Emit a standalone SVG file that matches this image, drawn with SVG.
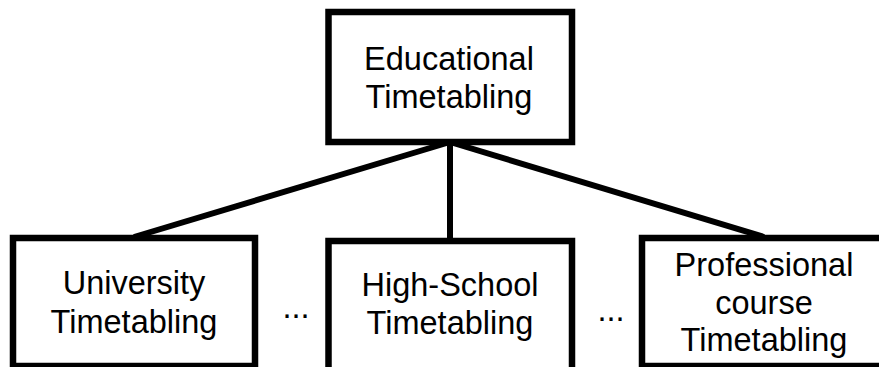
<svg xmlns="http://www.w3.org/2000/svg" width="879" height="367" viewBox="0 0 879 367">
<style>
.box{fill:#fff;stroke:#000;stroke-width:6.5}
.t{font-family:"Liberation Sans",Arial,sans-serif;font-size:32.5px;fill:#000;text-anchor:middle}
.c{stroke:#000;stroke-width:6;fill:none}
</style>
<rect width="879" height="367" fill="#fff"/>
<g id="connectors">
<line class="c" x1="450" y1="142" x2="134" y2="237"/>
<line class="c" x1="450" y1="142" x2="450" y2="240"/>
<line class="c" x1="450" y1="142" x2="764" y2="237"/>
</g>
<g id="educational">
<rect class="box" x="328.5" y="12" width="243.5" height="130"/>
<text class="t" x="449" y="70">Educational</text>
<text class="t" x="449" y="108">Timetabling</text>
</g>
<g id="university">
<rect class="box" x="13" y="238" width="242" height="128"/>
<text class="t" x="134" y="294">University</text>
<text class="t" x="134" y="333">Timetabling</text>
</g>
<g id="dots1"><text class="t" x="296" y="318">...</text></g>
<g id="highschool">
<rect class="box" x="328.5" y="241" width="243.5" height="160"/>
<text class="t" x="450" y="296">High-School</text>
<text class="t" x="450" y="334">Timetabling</text>
</g>
<g id="dots2"><text class="t" x="611" y="321">...</text></g>
<g id="professional">
<rect class="box" x="642" y="238" width="244" height="128"/>
<text class="t" x="764" y="276">Professional</text>
<text class="t" x="764" y="313.5">course</text>
<text class="t" x="764" y="351">Timetabling</text>
</g>
</svg>
